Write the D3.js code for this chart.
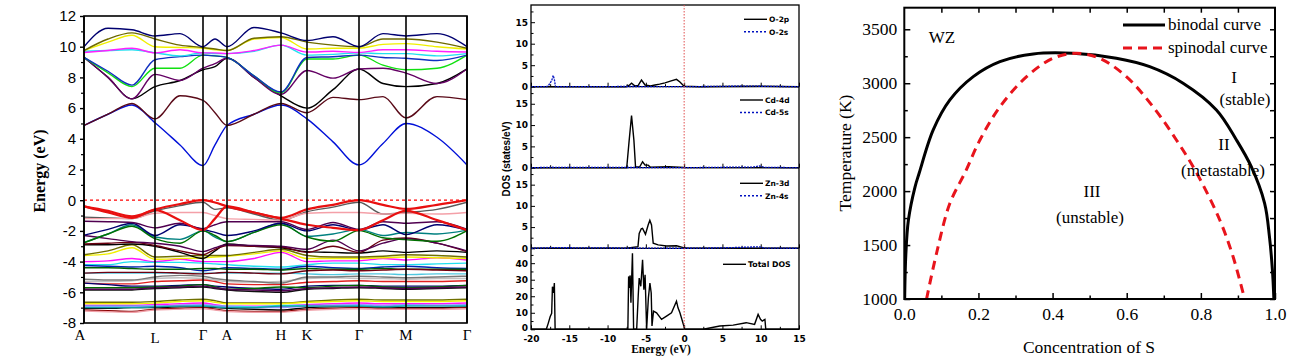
<!DOCTYPE html>
<html><head><meta charset="utf-8">
<script src="https://cdn.jsdelivr.net/npm/d3@7/dist/d3.min.js"></script>
<style>body{margin:0;background:#fff}svg{display:block}</style>
</head><body>
<svg id="c" width="1289" height="357"></svg>
<script>
// ================= DATA =================
// Band structure: k-path (arbitrary path length units)
const kTicks = [0, 71, 119, 143, 197, 223, 275, 322, 383];
const kLabels = ["A", "L", "Γ", "A", "H", "K", "Γ", "M", "Γ"];
const kGrid = [0, 24, 48, 71, 96, 119, 131, 143, 170, 197, 223, 249, 275, 299, 322, 353, 383];
const energyTicks = [-8, -6, -4, -2, 0, 2, 4, 6, 8, 10, 12];
const energyTickLabels = ["-8", "-6", "-4", "-2", "0", "2", "4", "6", "8", "10", "12"];

const condColors = ["#0010d8", "#5a0a18", "#000000", "#640064", "#10e010", "#1030c0", "#20e0f0", "#ff20ff", "#f0f000", "#6e6a00", "#000070"];
const condBands = [
  [4.87, 5.6, 6.2, 5.05, 3.6, 2.25, 3.6, 4.87, 5.6, 6.2, 5.3, 3.8, 2.3, 3.7, 5.0, 4.1, 2.3],
  [4.87, 5.6, 6.3, 5.3, 6.8, 6.5, 5.7, 4.87, 5.6, 6.3, 5.7, 6.7, 6.55, 6.75, 5.36, 6.75, 6.55],
  [9.3, 8.0, 6.6, 7.4, 7.8, 8.5, 8.7, 9.25, 8.0, 6.8, 6.0, 7.2, 8.55, 7.6, 7.4, 7.6, 8.55],
  [9.3, 8.0, 6.6, 8.2, 7.8, 8.6, 8.9, 9.25, 8.0, 6.9, 8.45, 7.95, 8.55, 8.6, 8.28, 7.6, 8.55],
  [9.3, 8.3, 7.4, 8.6, 8.6, 9.45, 9.4, 9.3, 8.1, 7.0, 9.2, 9.2, 9.45, 8.8, 8.5, 8.6, 9.45],
  [9.3, 8.4, 7.5, 9.15, 9.35, 9.45, 9.4, 9.3, 8.1, 7.05, 9.3, 9.35, 9.45, 9.3, 9.25, 9.1, 9.45],
  [9.7, 9.75, 9.8, 9.6, 9.4, 9.6, 9.55, 9.55, 9.7, 10.1, 9.45, 9.5, 9.6, 9.55, 9.55, 9.4, 9.55],
  [9.62, 9.75, 9.9, 9.6, 9.8, 9.6, 9.6, 9.55, 9.75, 10.1, 9.65, 9.7, 9.62, 9.8, 9.8, 9.7, 9.65],
  [9.75, 10.3, 10.75, 10.0, 9.95, 9.9, 9.8, 9.75, 10.5, 10.6, 9.85, 9.9, 9.9, 10.15, 10.2, 10.0, 9.85],
  [9.75, 10.5, 10.9, 10.5, 10.1, 9.95, 9.85, 9.75, 10.55, 10.65, 10.3, 10.1, 10.0, 10.5, 10.5, 10.3, 9.9],
  [10.0, 11.2, 11.1, 10.7, 10.85, 10.0, 10.5, 10.0, 11.25, 10.9, 10.4, 10.65, 10.0, 10.85, 10.7, 10.85, 10.0]
];

const valColors = [
  "#000000", "#8a0000", "#f0a0a8", "#9090ff", "#10a0a0", "#50c8e0", "#c0c0c0", "#7a7a7a",
  "#ff10ff", "#20e0f0", "#0020b0", "#006000", "#700010", "#e02020", "#000070", "#006a00", "#101010", "#500050",
  "#f0f000", "#707000", "#000000", "#6a0010", "#500050", "#008080", "#007000", "#000070",
  "#500050", "#5a5a5a", "#f4a0a8", "#e81010", "#e81010"
];
const valBands = [
  [-7.05, -7.05, -7.0, -7.0, -6.95, -6.95, -7.0, -7.05, -7.1, -7.15, -7.0, -6.95, -6.95, -7.0, -7.0, -7.0, -6.95],
  [-7.15, -7.2, -7.25, -7.1, -7.05, -7.0, -7.1, -7.2, -7.25, -7.25, -7.1, -7.05, -7.0, -7.05, -7.05, -7.05, -7.0],
  [-7.22, -7.27, -7.3, -7.15, -7.1, -7.07, -7.15, -7.25, -7.3, -7.3, -7.17, -7.1, -7.07, -7.1, -7.1, -7.1, -7.07],
  [-6.95, -6.95, -6.95, -6.9, -6.85, -6.8, -6.85, -6.95, -7.0, -7.0, -6.9, -6.85, -6.8, -6.85, -6.8, -6.85, -6.8],
  [-7.0, -7.0, -7.0, -6.95, -6.9, -6.9, -6.95, -7.0, -7.0, -6.9, -6.9, -6.9, -6.9, -6.95, -6.9, -6.9, -6.9],
  [-4.75, -4.75, -4.75, -4.75, -4.75, -4.75, -4.75, -4.75, -4.75, -4.75, -4.8, -4.85, -4.8, -4.8, -4.85, -4.8, -4.8],
  [-5.3, -5.3, -5.25, -5.1, -5.05, -5.1, -5.2, -5.3, -5.35, -5.3, -5.1, -5.05, -5.1, -5.1, -5.15, -5.1, -5.1],
  [-5.15, -5.2, -5.2, -5.0, -4.9, -4.95, -5.1, -5.2, -5.3, -5.4, -5.0, -5.0, -4.95, -5.0, -5.05, -5.0, -4.95],
  [-4.0, -3.95, -3.8, -4.0, -3.85, -4.0, -4.0, -4.0, -3.8, -3.4, -4.0, -3.95, -3.95, -3.8, -3.9, -3.75, -3.9],
  [-4.2, -4.2, -4.0, -4.05, -4.05, -4.1, -4.15, -4.2, -4.3, -4.35, -4.2, -4.1, -4.1, -4.2, -4.2, -4.15, -4.1],
  [-4.25, -4.3, -4.35, -4.3, -4.4, -4.6, -4.5, -4.4, -4.45, -4.5, -4.3, -4.4, -4.45, -4.35, -4.3, -4.4, -4.45],
  [-4.4, -4.4, -4.45, -4.5, -4.5, -4.45, -4.45, -4.5, -4.5, -4.55, -4.45, -4.5, -4.5, -4.45, -4.5, -4.5, -4.5],
  [-4.75, -4.7, -4.7, -4.7, -4.75, -4.8, -4.75, -4.7, -4.75, -4.8, -4.6, -4.55, -4.6, -4.55, -4.5, -4.55, -4.6],
  [-5.4, -5.45, -5.45, -5.3, -5.25, -5.2, -5.3, -5.45, -5.5, -5.5, -5.35, -5.3, -5.25, -5.3, -5.3, -5.3, -5.25],
  [-5.4, -5.5, -5.6, -5.6, -5.55, -5.5, -5.6, -5.65, -5.75, -5.8, -5.6, -5.55, -5.55, -5.6, -5.6, -5.6, -5.55],
  [-5.7, -5.7, -5.7, -5.65, -5.6, -5.5, -5.65, -5.8, -5.75, -5.65, -5.7, -5.6, -5.55, -5.65, -5.7, -5.65, -5.55],
  [-5.85, -5.85, -5.85, -5.75, -5.7, -5.65, -5.75, -5.85, -5.95, -6.0, -5.8, -5.75, -5.7, -5.75, -5.8, -5.75, -5.7],
  [-5.8, -5.8, -5.8, -5.7, -5.65, -5.6, -5.7, -5.8, -5.85, -5.9, -5.75, -5.7, -5.65, -5.7, -5.75, -5.7, -5.65],
  [-3.6, -3.5, -3.1, -3.85, -3.8, -3.75, -3.7, -3.65, -3.5, -3.3, -3.8, -3.8, -3.8, -3.75, -3.7, -3.75, -3.8],
  [-3.55, -3.3, -2.9, -3.7, -3.65, -3.6, -3.6, -3.6, -3.4, -3.2, -3.6, -3.7, -3.7, -3.65, -3.55, -3.6, -3.7],
  [-2.9, -2.9, -2.85, -3.0, -3.4, -3.8, -3.3, -2.85, -3.0, -3.1, -3.35, -3.4, -3.45, -3.3, -3.4, -3.3, -3.4],
  [-2.85, -2.8, -2.75, -2.95, -3.3, -3.55, -3.2, -2.95, -3.0, -3.05, -3.4, -3.0, -3.4, -2.6, -2.46, -2.8, -3.35],
  [-2.3, -2.5, -2.7, -2.8, -3.0, -3.35, -3.1, -2.9, -2.95, -3.0, -3.2, -2.6, -3.3, -2.8, -2.5, -2.8, -3.3],
  [-2.75, -2.2, -1.6, -2.4, -2.55, -2.0, -2.4, -2.7, -2.1, -1.5, -2.35, -2.2, -1.9, -2.3, -2.1, -2.2, -1.95],
  [-2.78, -2.2, -1.7, -2.5, -2.8, -2.0, -2.3, -2.7, -2.1, -1.6, -2.4, -2.67, -1.98, -2.45, -2.57, -2.67, -1.98],
  [-2.28, -1.9, -1.5, -2.3, -1.6, -1.9, -2.1, -2.3, -2.0, -1.5, -2.0, -1.6, -1.95, -1.6, -2.24, -1.6, -1.95],
  [-1.37, -1.4, -1.45, -1.8, -1.5, -1.85, -1.6, -1.4, -1.4, -1.4, -1.9, -1.45, -1.9, -1.4, -1.5, -1.4, -1.9],
  [-1.1, -1.15, -1.2, -0.7, -0.35, -0.13, -0.6, -0.5, -0.9, -1.3, -0.75, -0.45, -0.13, -0.9, -0.8, -0.6, -0.13],
  [-1.2, -1.2, -1.2, -0.85, -0.8, -0.8, -1.0, -1.2, -1.25, -1.3, -0.85, -0.8, -0.8, -0.9, -0.85, -0.9, -0.8],
  [-0.4, -0.8, -1.15, -0.65, -1.3, -1.95, -1.2, -0.4, -0.8, -1.2, -1.6, -1.8, -1.95, -1.3, -0.7, -1.3, -1.95],
  [-0.4, -0.7, -1.05, -0.6, -0.25, 0, -0.15, -0.4, -0.8, -1.15, -0.6, -0.3, 0, -0.3, -0.57, -0.3, 0]
];
const valLower = [
  [-6.65, -6.65, -6.65, -6.6, -6.5, -6.45, -6.55, -6.7, -6.7, -6.7, -6.6, -6.5, -6.45, -6.5, -6.5, -6.5, -6.45],
  [-6.75, -6.75, -6.75, -6.7, -6.6, -6.55, -6.65, -6.75, -6.75, -6.75, -6.65, -6.6, -6.55, -6.6, -6.6, -6.6, -6.55],
  [-6.85, -6.85, -6.85, -6.8, -6.75, -6.7, -6.8, -6.9, -6.9, -6.9, -6.8, -6.75, -6.7, -6.75, -6.75, -6.75, -6.7],
  [-6.9, -6.9, -6.9, -6.9, -6.85, -6.85, -6.9, -6.9, -6.95, -6.85, -6.85, -6.85, -6.85, -6.9, -6.85, -6.85, -6.85]
];
const valLowerColors = ["#707000", "#f0f000", "#ff10ff", "#20e0f0"];

// DOS panels: [energy (eV), DOS (states/eV)]
const dosTicksX = [-20, -15, -10, -5, 0, 5, 10, 15];
const dosTickLabelsX = ["-20", "-15", "-10", "-5", "0", "5", "10", "15"];
const pdosTicks = [0, 5, 10, 15];
const totTicks = [0, 10, 20, 30, 40];
const O2p = [[-20,0],[-7.6,0],[-7.2,0.3],[-6.87,0.8],[-6.45,0.2],[-6.0,0.3],[-5.57,1.55],[-5.1,0.4],[-4.4,0.2],[-3.8,0.4],[-3.2,0.6],[-2.5,0.9],[-1.8,1.3],[-1.0,1.7],[-0.55,1.1],[0,0.1],[2,0],[5,0.05],[10,0.1],[15,0]];
const O2s = [[-20,0],[-18,0],[-17.75,0.2],[-17.3,1.4],[-17.1,2.6],[-16.95,1.7],[-16.8,0],[-7,0.05],[0,0],[9,0.15],[10,0.1],[15,0]];
const Cd4d = [[-20,0],[-7.5,0],[-7.18,6.4],[-6.87,12.2],[-6.56,6.4],[-6.35,0.2],[-5.8,0.2],[-5.43,1.4],[-5.1,0.6],[-4.7,0.6],[-4.4,0.1],[-2,0.25],[0,0.05],[15,0]];
const Cd5s = [[-20,0],[-17.2,0.1],[-7,0.05],[0,0],[5,0.1],[9,0.15],[9.8,0.4],[10.5,0.1],[15,0]];
const Zn3d = [[-20,0],[-7.5,0],[-6.03,0.4],[-5.87,3.5],[-5.6,4.6],[-5.43,4.7],[-5.05,3.3],[-4.7,5.5],[-4.48,6.6],[-4.26,5.5],[-4.04,1.2],[-3.4,0.8],[-2.3,0.55],[-1.0,0.6],[-0.1,0.15],[0.5,0],[15,0]];
const Zn4s = [[-20,0],[-17.2,0.15],[-7,0.05],[0,0],[5,0.1],[9.8,0.35],[10.5,0.05],[15,0]];
const TotalDOS = [[-20,0],[-18,0],[-17.75,3.6],[-17.5,7.6],[-17.3,9.7],[-17.2,25.8],[-17.05,22],[-16.95,28],[-16.85,0],[-7.35,0],[-7.25,32],[-7.15,25],[-7.05,32.6],[-6.95,16],[-6.75,46],[-6.6,0],[-6.2,0],[-6.0,20],[-5.87,31],[-5.66,26],[-5.43,42],[-5.26,24],[-5.1,33],[-4.9,0],[-4.67,19],[-4.47,28],[-4.3,22],[-4.2,2],[-4.0,11],[-3.6,10],[-2.95,6],[-2.3,8],[-1.65,10],[-1.0,17],[-0.8,13],[-0.55,10],[-0.04,2],[0.05,0],[2.5,0],[4.66,2],[6.4,2.5],[8.1,4],[9.2,3],[9.66,9],[9.97,6],[10.2,5],[10.55,6],[10.66,0],[15,0]];
const pdosLabels = [["O-2p", "O-2s"], ["Cd-4d", "Cd-5s"], ["Zn-3d", "Zn-4s"]];

// Phase diagram
const binodalS = [0.001, 0.004, 0.011, 0.029, 0.040, 0.078, 0.123, 0.186, 0.258, 0.348, 0.455, 0.572, 0.662, 0.752, 0.842, 0.896, 0.936, 0.972, 0.985, 0.993, 0.997];
const binodalT = [1000, 1400, 1730, 2040, 2165, 2567, 2845, 3061, 3200, 3271, 3277, 3231, 3153, 3000, 2752, 2474, 2226, 1887, 1578, 1269, 1000];
const spinodalS = [0.060, 0.087, 0.123, 0.165, 0.204, 0.258, 0.330, 0.401, 0.464, 0.527, 0.599, 0.671, 0.734, 0.790, 0.851, 0.887, 0.918];
const spinodalT = [1000, 1424, 1887, 2180, 2474, 2782, 3061, 3231, 3277, 3231, 3061, 2782, 2474, 2160, 1732, 1392, 1000];
const concTicks = [0, 0.2, 0.4, 0.6, 0.8, 1.0];
const concTickLabels = ["0.0", "0.2", "0.4", "0.6", "0.8", "1.0"];
const tempTicks = [1000, 1500, 2000, 2500, 3000, 3500];
const tempTickLabels = ["1000", "1500", "2000", "2500", "3000", "3500"];

// ================= DRAW =================
const svg = d3.select("#c");
svg.append("rect").attr("width", 1289).attr("height", 357).attr("fill", "#fff");
const SANS = "'Liberation Sans', Arial, sans-serif";
const SERIF = "'Liberation Serif', 'Times New Roman', serif";
const DJB = "'DejaVu Sans', sans-serif";

// ---------- Band structure ----------
const bx = d3.scaleLinear().domain([0, 383]).range([84, 467]);
const by = d3.scaleLinear().domain([-8, 12]).range([323, 16]);
const gB = svg.append("g");
const bandLine = d3.line().x((d, i) => bx(kGrid[i])).y(d => by(d)).curve(d3.curveMonotoneX);
svg.append("clipPath").attr("id", "bclip").append("rect")
  .attr("x", 84).attr("y", 16).attr("width", 383).attr("height", 307);
const gLines = gB.append("g").attr("clip-path", "url(#bclip)");
valLower.forEach((b, i) => gLines.append("path").attr("d", bandLine(b)).attr("fill", "none")
  .attr("stroke", valLowerColors[i]).attr("stroke-width", 1.4));
valBands.forEach((b, i) => gLines.append("path").attr("d", bandLine(b)).attr("fill", "none")
  .attr("stroke", valColors[i]).attr("stroke-width", i >= valBands.length - 2 ? 2.2 : 1.4));
condBands.forEach((b, i) => gLines.append("path").attr("d", bandLine(b)).attr("fill", "none")
  .attr("stroke", condColors[i]).attr("stroke-width", 1.4));
gB.append("line").attr("x1", bx(0)).attr("x2", bx(383)).attr("y1", by(0)).attr("y2", by(0))
  .attr("stroke", "#ff0000").attr("stroke-width", 1.2).attr("stroke-dasharray", "3,3");
kTicks.forEach(k => gB.append("line").attr("x1", bx(k)).attr("x2", bx(k)).attr("y1", by(12)).attr("y2", by(-8))
  .attr("stroke", "#000").attr("stroke-width", 1.6));
gB.append("rect").attr("x", 84).attr("y", 16).attr("width", 383).attr("height", 307)
  .attr("fill", "none").attr("stroke", "#000").attr("stroke-width", 1.6);
const yAx = gB.append("g").attr("transform", "translate(84,0)")
  .call(d3.axisLeft(by).tickValues(energyTicks).tickSize(4).tickPadding(4)
    .tickFormat((d, i) => energyTickLabels[i]));
yAx.select(".domain").remove();
yAx.selectAll("text").attr("font-family", SANS).attr("font-size", 15).attr("fill", "#000");
yAx.selectAll("line").attr("stroke-width", 1.4);
const yAxm = gB.append("g").attr("transform", "translate(84,0)")
  .call(d3.axisLeft(by).tickValues(d3.range(-7, 12, 2)).tickSize(3).tickFormat(""));
yAxm.select(".domain").remove();
yAxm.selectAll("line").attr("stroke-width", 1.2);
kTicks.forEach((k, i) => gB.append("text").attr("x", bx(k) + (i === 0 ? -4 : 0)).attr("y", i === 1 ? 343 : 340)
  .attr("text-anchor", "middle").attr("font-family", SERIF).attr("font-size", 15).text(kLabels[i]));
gB.append("text").attr("transform", "translate(45,171) rotate(-90)").attr("text-anchor", "middle")
  .attr("font-family", SERIF).attr("font-weight", "bold").attr("font-size", 16).text("Energy (eV)");

// ---------- DOS ----------
const dx = d3.scaleLinear().domain([-20, 15]).range([531, 799]);
const gD = svg.append("g");
const panels = [
  { top: 5, bot: 86.7, max: 19, ticks: pdosTicks, d: O2p, s: O2s, lab: pdosLabels[0], ly: 19.3 },
  { top: 86.7, bot: 167.7, max: 19, ticks: pdosTicks, d: Cd4d, s: Cd5s, lab: pdosLabels[1], ly: 100 },
  { top: 167.7, bot: 248.3, max: 19, ticks: pdosTicks, d: Zn3d, s: Zn4s, lab: pdosLabels[2], ly: 183.3 },
  { top: 248.3, bot: 329.3, max: 49, ticks: totTicks, d: TotalDOS, s: null, lab: ["Total DOS"], ly: 264.3 }
];
panels.forEach((p, pi) => {
  const ys = d3.scaleLinear().domain([0, p.max]).range([p.bot, p.top]);
  const ln = d3.line().x(d => dx(d[0])).y(d => ys(d[1]));
  const step = p.ticks[1] - p.ticks[0];
  const ax = gD.append("g").attr("transform", "translate(531,0)")
    .call(d3.axisLeft(ys).tickValues(p.ticks).tickSizeInner(-4).tickSizeOuter(0).tickPadding(3).tickFormat(d => String(d)));
  ax.select(".domain").remove();
  ax.selectAll("text").attr("font-family", DJB).attr("font-weight", "bold").attr("font-size", 9);
  if (pi === 3) ax.selectAll("text").filter(d => d === 0).attr("dy", "0.15em");
  const axm = gD.append("g").attr("transform", "translate(531,0)")
    .call(d3.axisLeft(ys).tickValues(d3.range(step / 2, p.max, step)).tickSizeInner(-2.5).tickSizeOuter(0).tickFormat(""));
  axm.select(".domain").remove();
  const bxAx = gD.append("g").attr("transform", `translate(0,${p.bot})`)
    .call(d3.axisBottom(dx).tickValues(dosTicksX).tickSizeInner(-4).tickSizeOuter(0).tickPadding(6)
      .tickFormat((d, i) => pi === 3 ? dosTickLabelsX[i] : ""));
  bxAx.select(".domain").remove();
  bxAx.selectAll("text").attr("font-family", DJB).attr("font-weight", "bold").attr("font-size", 9);
  const bxm = gD.append("g").attr("transform", `translate(0,${p.bot})`)
    .call(d3.axisBottom(dx).tickValues(d3.range(-17.5, 15, 5)).tickSizeInner(-2.5).tickSizeOuter(0).tickFormat(""));
  bxm.select(".domain").remove();
  gD.append("line").attr("x1", 531).attr("x2", 799).attr("y1", p.bot).attr("y2", p.bot)
    .attr("stroke", "#000").attr("stroke-width", 1.3);
  gD.append("path").attr("d", ln(p.d)).attr("fill", "none").attr("stroke", "#000").attr("stroke-width", 1.4);
  if (p.s) {
    gD.append("path").attr("d", ln(p.s)).attr("fill", "none").attr("stroke", "#0010c0")
      .attr("stroke-width", 1.3).attr("stroke-dasharray", "2,1");
  }
  const lx = pi === 0 ? 744 : (pi === 3 ? 723 : 740);
  gD.append("line").attr("x1", lx).attr("x2", lx + 23).attr("y1", p.ly).attr("y2", p.ly)
    .attr("stroke", "#000").attr("stroke-width", 1.4);
  gD.append("text").attr("x", lx + 25).attr("y", p.ly + 2.8).attr("font-family", DJB).attr("font-weight", "bold")
    .attr("font-size", pi === 3 ? 7.8 : 7.5).text(p.lab[0]);
  if (p.lab[1]) {
    const ly2 = p.ly + 12.5;
    gD.append("line").attr("x1", lx).attr("x2", lx + 23).attr("y1", ly2).attr("y2", ly2)
      .attr("stroke", "#0010c0").attr("stroke-width", 1.4).attr("stroke-dasharray", "2,2");
    gD.append("text").attr("x", lx + 25).attr("y", ly2 + 2.8).attr("font-family", DJB).attr("font-weight", "bold")
      .attr("font-size", 7.5).text(p.lab[1]);
  }
});
gD.append("rect").attr("x", 531).attr("y", 5).attr("width", 268).attr("height", 324.3)
  .attr("fill", "none").attr("stroke", "#000").attr("stroke-width", 1.3);
gD.append("line").attr("x1", dx(0)).attr("x2", dx(0)).attr("y1", 5).attr("y2", 329.3)
  .attr("stroke", "#e05050").attr("stroke-width", 1).attr("stroke-dasharray", "1.5,1.5");
gD.append("text").attr("transform", "translate(510,159) rotate(-90)").attr("text-anchor", "middle")
  .attr("font-family", SANS).attr("font-weight", "bold").attr("font-size", 10).text("DOS (states/eV)");
gD.append("text").attr("x", 661).attr("y", 353).attr("text-anchor", "middle")
  .attr("font-family", SERIF).attr("font-weight", "bold").attr("font-size", 11.5).text("Energy (eV)");

// ---------- Phase diagram ----------
const px = d3.scaleLinear().domain([0, 1]).range([904.3, 1275]);
const py = d3.scaleLinear().domain([1000, 3700]).range([299, 7.7]);
const gP = svg.append("g");
const tickStyle = sel => { sel.select(".domain").remove(); sel.selectAll("line").attr("stroke-width", 1.5); };
const pl = gP.append("g").attr("transform", "translate(904.3,0)")
  .call(d3.axisLeft(py).tickValues(tempTicks).tickSizeInner(-6).tickSizeOuter(0).tickPadding(7)
    .tickFormat((d, i) => tempTickLabels[i]));
tickStyle(pl);
pl.attr("font-family", SERIF);
pl.selectAll("text").attr("font-family", SERIF).attr("font-size", 17.5);
tickStyle(gP.append("g").attr("transform", "translate(904.3,0)")
  .call(d3.axisLeft(py).tickValues(d3.range(1250, 3700, 500)).tickSizeInner(-3.5).tickSizeOuter(0).tickFormat("")));
tickStyle(gP.append("g").attr("transform", "translate(1275,0)")
  .call(d3.axisRight(py).tickValues(d3.range(1000, 3700, 250)).tickSizeInner(-5).tickSizeOuter(0).tickFormat("")));
const pb = gP.append("g").attr("transform", "translate(0,299)")
  .call(d3.axisBottom(px).tickValues(concTicks).tickSizeInner(-6).tickSizeOuter(0).tickPadding(9)
    .tickFormat((d, i) => concTickLabels[i]));
tickStyle(pb);
pb.attr("font-family", SERIF);
pb.selectAll("text").attr("font-family", SERIF).attr("font-size", 17.5);
tickStyle(gP.append("g").attr("transform", "translate(0,299)")
  .call(d3.axisBottom(px).tickValues(d3.range(0.1, 1, 0.2)).tickSizeInner(-3.5).tickSizeOuter(0).tickFormat("")));
tickStyle(gP.append("g").attr("transform", "translate(0,7.7)")
  .call(d3.axisTop(px).tickValues(d3.range(0.1, 1, 0.1)).tickSizeInner(-5).tickSizeOuter(0).tickFormat("")));
const pLineY = d3.line().x(d => px(d[0])).y(d => py(d[1])).curve(d3.curveCatmullRom.alpha(0.5));
svg.append("clipPath").attr("id", "pclip").append("rect")
  .attr("x", 904.3).attr("y", 7.7).attr("width", 370.7).attr("height", 291.3);
const gPl = gP.append("g").attr("clip-path", "url(#pclip)");
gPl.append("path").attr("d", pLineY(binodalS.map((s, i) => [s, binodalT[i]]))).attr("fill", "none")
  .attr("stroke", "#000").attr("stroke-width", 3);
gPl.append("path").attr("d", pLineY(spinodalS.map((s, i) => [s, spinodalT[i]]))).attr("fill", "none")
  .attr("stroke", "#e8141c").attr("stroke-width", 3).attr("stroke-dasharray", "9,6");
gP.append("rect").attr("x", 904.3).attr("y", 7.7).attr("width", 370.7).attr("height", 291.3)
  .attr("fill", "none").attr("stroke", "#000").attr("stroke-width", 2);
gP.append("line").attr("x1", 1123).attr("x2", 1165).attr("y1", 25).attr("y2", 25).attr("stroke", "#000").attr("stroke-width", 3);
gP.append("line").attr("x1", 1123).attr("x2", 1165).attr("y1", 48).attr("y2", 48).attr("stroke", "#e8141c")
  .attr("stroke-width", 3).attr("stroke-dasharray", "9,6");
const ptxt = (x, y, t, anchor) => gP.append("text").attr("x", x).attr("y", y).attr("text-anchor", anchor || "start")
  .attr("font-family", SERIF).attr("font-size", 17).text(t);
ptxt(1168, 30, "binodal curve");
ptxt(1168, 53, "spinodal curve");
ptxt(942, 43, "WZ", "middle");
ptxt(1234, 83, "I", "middle");
ptxt(1245, 105, "(stable)", "middle");
ptxt(1224, 150, "II", "middle");
ptxt(1223, 176, "(metastable)", "middle");
ptxt(1092, 197, "III", "middle");
ptxt(1090, 223, "(unstable)", "middle");
gP.append("text").attr("transform", "translate(851,153) rotate(-90)").attr("text-anchor", "middle")
  .attr("font-family", SERIF).attr("font-size", 17.5).text("Temperature (K)");
gP.append("text").attr("x", 1089).attr("y", 353).attr("text-anchor", "middle")
  .attr("font-family", SERIF).attr("font-size", 17.5).text("Concentration of S");
</script>
</body></html>
